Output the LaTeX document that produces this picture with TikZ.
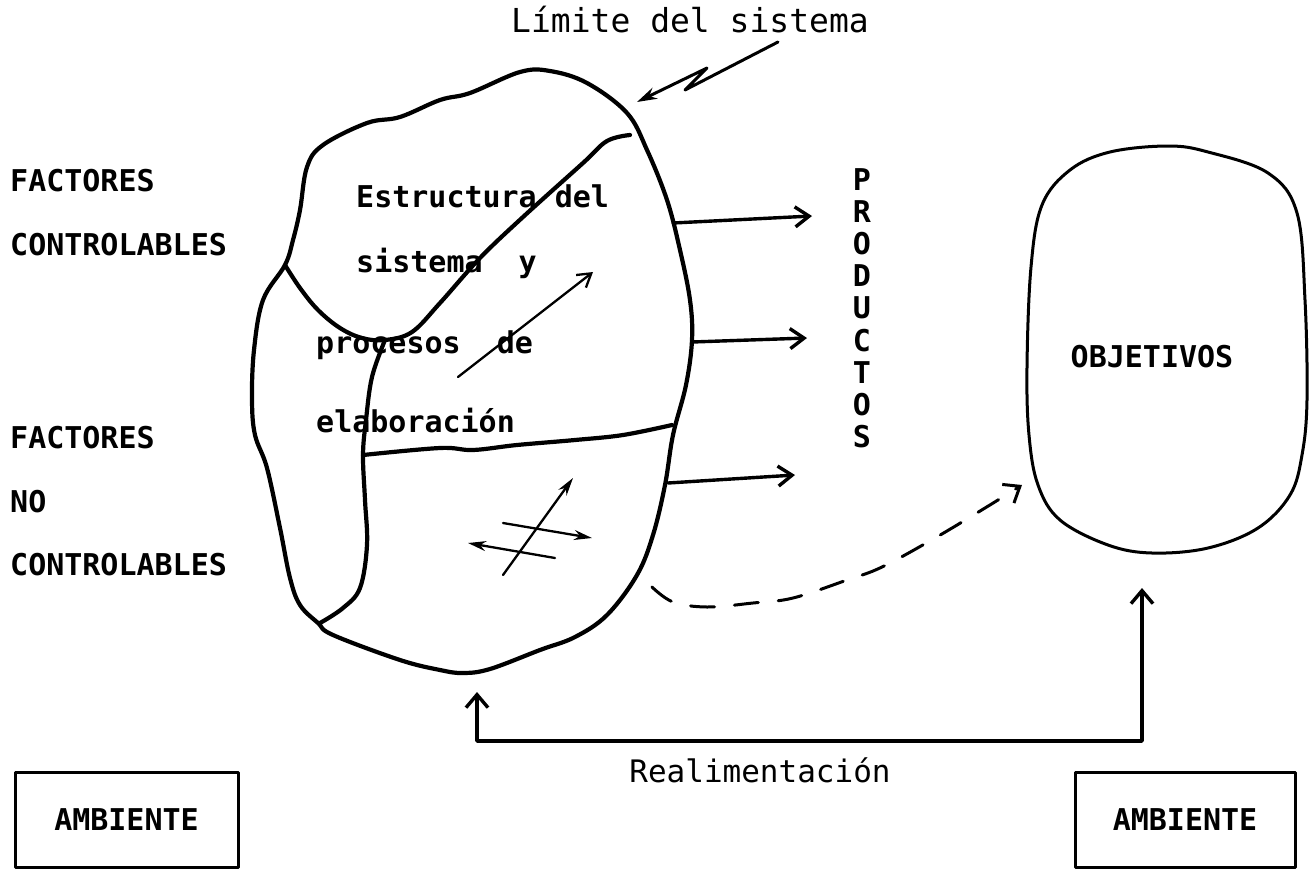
\documentclass[tikz,border=0pt]{standalone}
\usepackage{fontspec}
\newfontfamily\maqfont{DejaVu Sans Mono}
\usetikzlibrary{arrows.meta}
\begin{document}
\begin{tikzpicture}[x=1pt,y=-1pt,line cap=round,line join=round,
    font=\maqfont\bfseries\fontsize{30}{36}\selectfont,
    borde/.style={line width=4.2pt},
    fina/.style={line width=2.3pt},
    rotulo/.style={anchor=base west,inner sep=0pt},
    texto/.style={anchor=base west,inner sep=0pt},
    caja/.style={draw,line width=3pt,minimum width=223pt,minimum height=95pt,inner sep=0pt},
    sale/.style={line width=3.4pt,-{Straight Barb[length=14pt,width=20pt,line width=3.4pt]}},
    flecha/.style={fina,-{Stealth[length=18pt,width=10pt]}}]
  \useasboundingbox (0,0) rectangle (1315,871);
  % textos
  \node[anchor=base,inner sep=0pt,font=\maqfont\fontsize{33}{36}\selectfont] (limite) at (690,32) {Límite del sistema};
  \node[rotulo] (fc1) at (10,191) {FACTORES};
  \node[rotulo] (fc2) at (10,255) {CONTROLABLES};
  \node[rotulo] (fn1) at (10,448) {FACTORES};
  \node[rotulo] (fn2) at (10,512) {NO};
  \node[rotulo] (fn3) at (10,575) {CONTROLABLES};
  \node[texto] (est1) at (356,207) {Estructura del};
  \node[texto] (est2) at (356,272) {sistema~~y};
  \node[texto] (est3) at (316,353) {procesos~~de};
  \node[texto] (est4) at (316,432) {elaboración};
  \foreach \l [count=\i] in {P,R,O,D,U,C,T,O,S}
    \node[anchor=base,inner sep=0pt] (prod\i) at (862,{190+32.2*(\i-1)}) {\l};
  \node[anchor=base,inner sep=0pt] (objetivos) at (1152,367) {OBJETIVOS};
  \node[anchor=base,inner sep=0pt,font=\maqfont\fontsize{31}{36}\selectfont] (realim) at (760,782) {Realimentación};
  \node[caja] (amb1) at (126.5,819.5) {AMBIENTE};
  \node[caja,minimum width=220pt] (amb2) at (1185,820) {AMBIENTE};
  % limite del sistema
  \draw[borde] plot[smooth cycle,tension=0.6] coordinates {(323,145) (367,123) (400,117) (440,100) (470,93)
    (520,72) (550,71) (587,83) (627,113) (647,150) (667,200) (680,250) (690,300) (692,340) (686,385)
    (673,435) (665,485) (653,535) (637,575) (607,615) (575,637) (540,650) (490,669) (463,673) (440,670)
    (400,660) (333,635) (318,623) (300,605) (290,578) (280,528) (267,468) (255,435) (252,400) (254,350)
    (263,300) (285,265) (293,240) (300,210) (307,167)};
  \draw[borde] plot[smooth,tension=0.6] coordinates {(285,265) (300,288) (318,310) (340,328) (362,338)
    (385,340) (412,332) (440,303) (480,258) (523,217) (583,163) (607,141) (630,135)};
  \draw[borde] plot[smooth,tension=0.6] coordinates {(385,340) (372,377) (366,420) (363,455) (365,500)
    (367,545) (360,588) (343,608) (320,623)};
  \draw[borde] plot[smooth,tension=0.6] coordinates {(363,455) (440,448) (473,450) (517,445) (575,440)
    (623,435) (672,425)};
  % objetivos
  \draw[line width=3pt] plot[smooth cycle,tension=0.6] coordinates {(1168,146) (1208,152) (1268,173)
    (1297,213) (1305,300) (1307,400) (1302,455) (1290,495) (1258,528) (1208,548) (1152,553) (1108,545)
    (1060,520) (1038,485) (1029,435) (1027,367) (1031,267) (1042,205) (1070,170) (1110,152)};
  % flechas
  \coordinate (zz0) at (778,42);
  \coordinate (zz1) at (685,90);
  \coordinate (zz2) at (707,68);
  \coordinate (borde) at (637,102);
  \draw[line width=3pt,-{Stealth[length=20pt,width=12pt]}] (zz0) -- (zz1) -- (zz2) -- (borde);
  \coordinate (s1) at (673,223); \coordinate (p1) at (812,216);
  \coordinate (s2) at (692,342); \coordinate (p2) at (807,338);
  \coordinate (s3) at (668,483); \coordinate (p3) at (795,475);
  \draw[sale] (s1) -- (p1);
  \draw[sale] (s2) -- (p2);
  \draw[sale] (s3) -- (p3);
  \coordinate (m0) at (458,377); \coordinate (m1) at (593,272);
  \draw[fina,-{Straight Barb[length=13pt,width=16pt,line width=2.3pt]}] (m0) -- (m1);
  \coordinate (c0) at (503,575); \coordinate (c1) at (573,478);
  \coordinate (c2) at (503,523); \coordinate (c3) at (592,538);
  \coordinate (c4) at (555,558); \coordinate (c5) at (468,543);
  \draw[flecha] (c0) -- (c1);
  \draw[flecha] (c2) -- (c3);
  \draw[flecha] (c4) -- (c5);
  \coordinate (objizq) at (1022,485);
  \draw[line width=3pt,dash pattern=on 24pt off 20pt,-{Straight Barb[length=14pt,width=22pt,line width=3pt,sep=0pt]}]
    plot[smooth,tension=0.6] coordinates {(652,587) (673,602) (707,607) (753,603) (793,598) (847,580)
    (882,567) (935,538) (985,508) (objizq)};
  % realimentacion
  \coordinate (sisbajo) at (477,692);
  \coordinate (esquina) at (477,741);
  \coordinate (objbajo) at (1142,588);
  \draw[line width=3.4pt,{Straight Barb[length=13pt,width=22pt,line width=3.4pt]}-{Straight Barb[length=13pt,width=22pt,line width=3.4pt]}]
    (sisbajo) -- (esquina) -| (objbajo);
\end{tikzpicture}
\end{document}
